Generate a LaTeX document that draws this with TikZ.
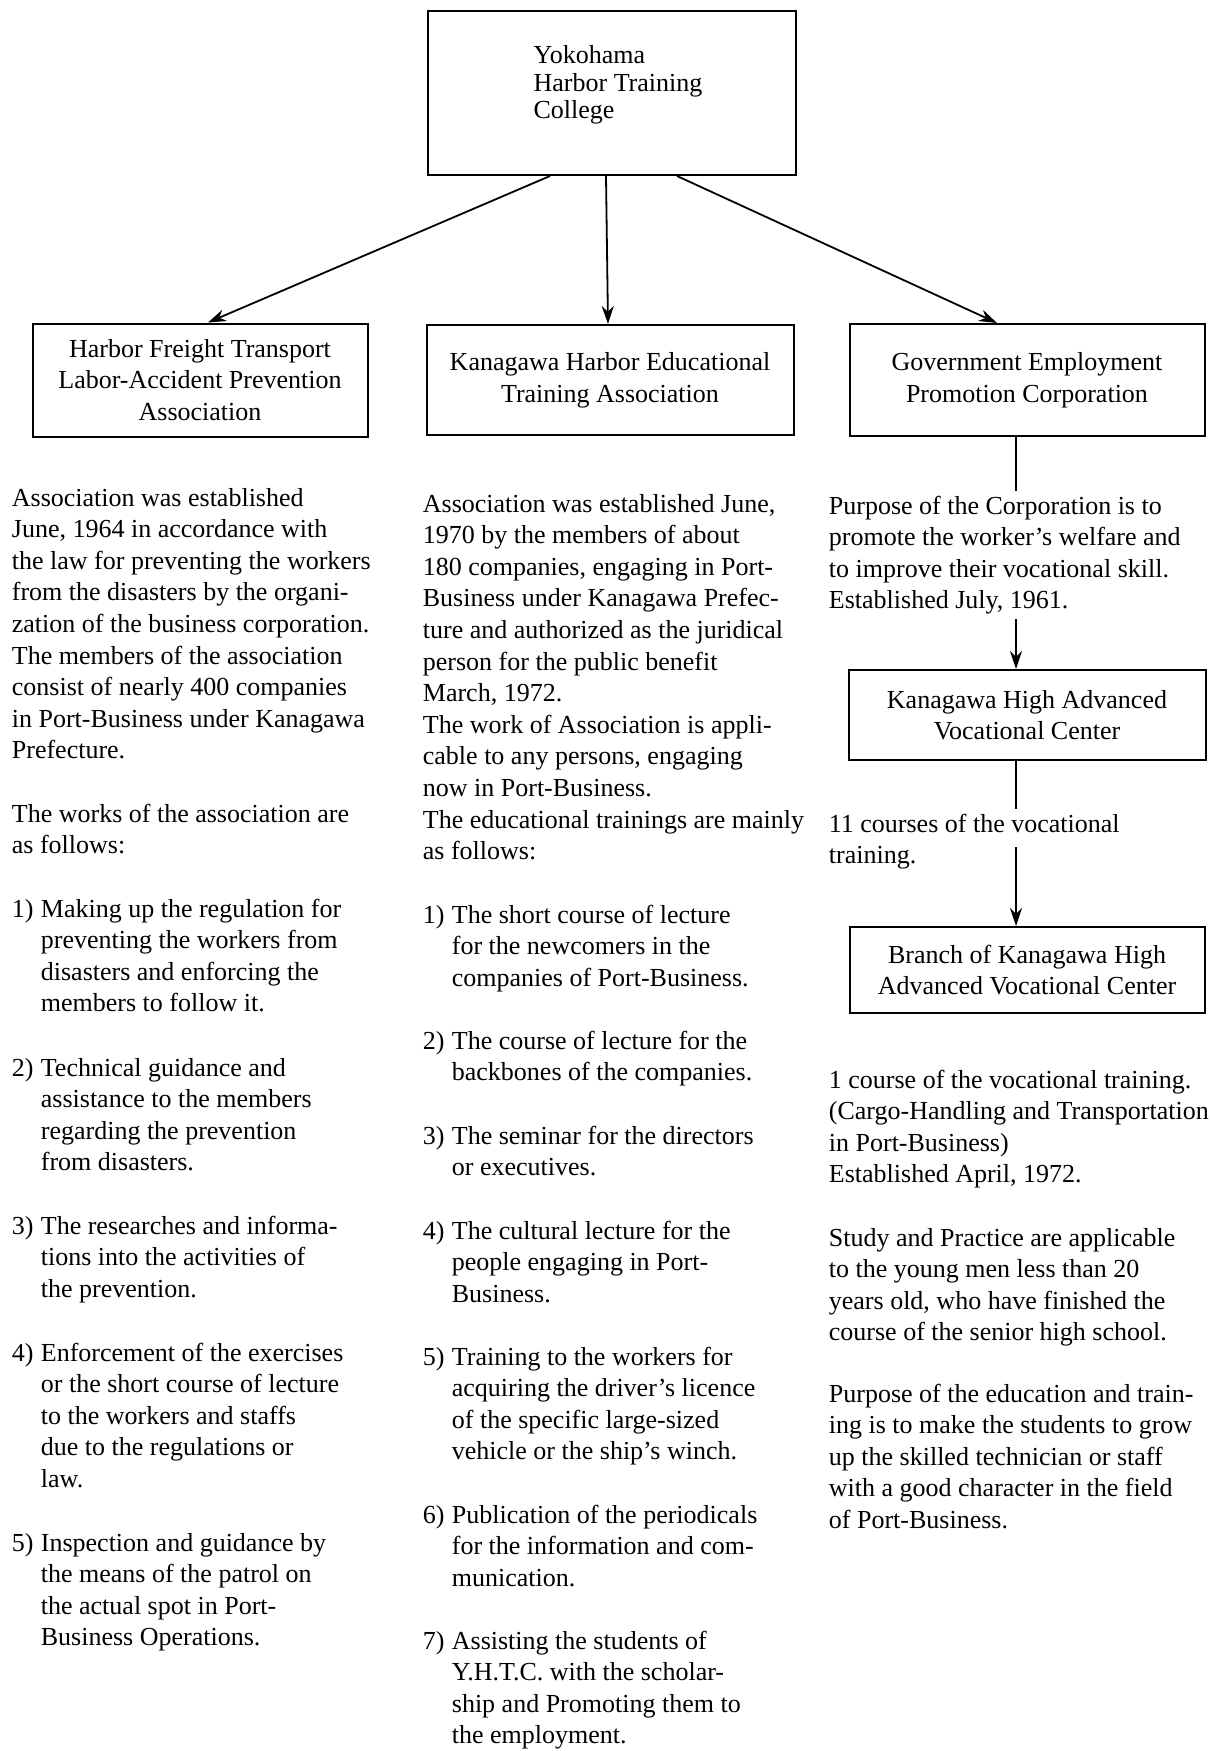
\documentclass[tikz,border=0pt]{standalone}
\usepackage{fontspec}
\setmainfont{Liberation Serif}
\usetikzlibrary{arrows.meta,positioning}

\newcommand{\blocktext}[1]{\begin{tabular}[t]{@{}l@{}}#1\end{tabular}}
\newcommand{\numtext}[2]{\makebox[29pt][l]{#1}\begin{tabular}[t]{@{}l@{}}#2\end{tabular}}

\begin{document}
\begin{tikzpicture}[x=1pt,y=-1pt,->,>={Stealth[length=18pt,width=12pt]},
  line width=1.8pt,font=\fontsize{26}{31.6}\selectfont,
  box/.style={draw,line width=2pt,align=center},
  txt/.style={anchor=base west,inner sep=0pt}]

 \useasboundingbox (0,0) rectangle (1210,1751);

 \node[box,minimum width=368pt,minimum height=164pt,font=\fontsize{26}{27.5}\selectfont] (yhtc) at (611.5,93)
   {\begin{tabular}{@{\hspace{13pt}}l@{}}Yokohama\\Harbor Training\\College\\[15pt]\end{tabular}};
 \node[box,minimum width=335pt,minimum height=113pt] (hft) at (200,380)
   {Harbor Freight Transport\\Labor-Accident Prevention\\Association};
 \node[box,minimum width=367pt,minimum height=110pt,right=57pt of hft] (khe)
   {Kanagawa Harbor Educational\\Training Association};
 \node[box,minimum width=355pt,minimum height=112pt,right=54pt of khe] (gep)
   {Government Employment\\Promotion Corporation};
 \node[box,minimum width=357pt,minimum height=90pt,below=232pt of gep] (khavc)
   {Kanagawa High Advanced\\Vocational Center};
 \node[box,minimum width=355pt,minimum height=86pt,below=165pt of khavc] (bkh)
   {Branch of Kanagawa High\\Advanced Vocational Center};

 % left column
 \node[txt] (l0) at (11,506) {\blocktext{Association was established\\June, 1964 in accordance with\\the law for preventing the workers\\from the disasters by the organi-\\zation of the business corporation.\\The members of the association\\consist of nearly 400 companies\\in Port-Business under Kanagawa\\Prefecture.}};
 \node[txt] (l1) at (11,822) {\blocktext{The works of the association are\\as follows:}};
 \node[txt] (l2) at (11,917) {\numtext{1)}{Making up the regulation for\\preventing the workers from\\disasters and enforcing the\\members to follow it.}};
 \node[txt] (l3) at (11,1076) {\numtext{2)}{Technical guidance and\\assistance to the members\\regarding the prevention\\from disasters.}};
 \node[txt] (l4) at (11,1234) {\numtext{3)}{The researches and informa-\\tions into the activities of\\the prevention.}};
 \node[txt] (l5) at (11,1361) {\numtext{4)}{Enforcement of the exercises\\or the short course of lecture\\to the workers and staffs\\due to the regulations or\\law.}};
 \node[txt] (l6) at (11,1551) {\numtext{5)}{Inspection and guidance by\\the means of the patrol on\\the actual spot in Port-\\Business Operations.}};

 % middle column
 \node[txt] (m0) at (422,512) {\blocktext{Association was established June,\\1970 by the members of about\\180 companies, engaging in Port-\\Business under Kanagawa Prefec-\\ture and authorized as the juridical\\person for the public benefit\\March, 1972.\\The work of Association is appli-\\cable to any persons, engaging\\now in Port-Business.\\The educational trainings are mainly\\as follows:}};
 \node[txt] (m1) at (422,923) {\numtext{1)}{The short course of lecture\\for the newcomers in the\\companies of Port-Business.}};
 \node[txt] (m2) at (422,1049) {\numtext{2)}{The course of lecture for the\\backbones of the companies.}};
 \node[txt] (m3) at (422,1144) {\numtext{3)}{The seminar for the directors\\or executives.}};
 \node[txt] (m4) at (422,1239) {\numtext{4)}{The cultural lecture for the\\people engaging in Port-\\Business.}};
 \node[txt] (m5) at (422,1365) {\numtext{5)}{Training to the workers for\\acquiring the driver's licence\\of the specific large-sized\\vehicle or the ship's winch.}};
 \node[txt] (m6) at (422,1523) {\numtext{6)}{Publication of the periodicals\\for the information and com-\\munication.}};
 \node[txt] (m7) at (422,1649) {\numtext{7)}{Assisting the students of\\Y.H.T.C. with the scholar-\\ship and Promoting them to\\the employment.}};

 % right column
 \node[txt] (r0) at (828,514) {\blocktext{Purpose of the Corporation is to\\promote the worker's welfare and\\to improve their vocational skill.\\Established July, 1961.}};
 \node[txt] (r1) at (828,832) {\blocktext{11 courses of the vocational\\training.}};
 \node[txt] (r2) at (828,1088) {\blocktext{1 course of the vocational training.\\(Cargo-Handling and Transportation\\in Port-Business)\\Established April, 1972.}};
 \node[txt] (r3) at (828,1246) {\blocktext{Study and Practice are applicable\\to the young men less than 20\\years old, who have finished the\\course of the senior high school.}};
 \node[txt] (r4) at (828,1402) {\blocktext{Purpose of the education and train-\\ing is to make the students to grow\\up the skilled technician or staff\\with a good character in the field\\of Port-Business.}};

 \coordinate (spine) at (1016,0);
 \coordinate (r1x) at ([yshift=-15pt]r1.base);

 \path
    ([xshift=-61.5pt]yhtc.south) edge ([xshift=8pt]hft.north)
    ([xshift=-5.5pt]yhtc.south)  edge ([xshift=-2pt]khe.north)
    ([xshift=65.5pt]yhtc.south)  edge ([xshift=-30pt]gep.north)
    (gep.south -| spine)   edge[-] (r0.north -| spine)
    (r0.south -| spine)    edge (khavc.north -| spine)
    (khavc.south -| spine) edge[-] (r1.north -| spine)
    (r1x -| spine)         edge (bkh.north -| spine);

\end{tikzpicture}
\end{document}
